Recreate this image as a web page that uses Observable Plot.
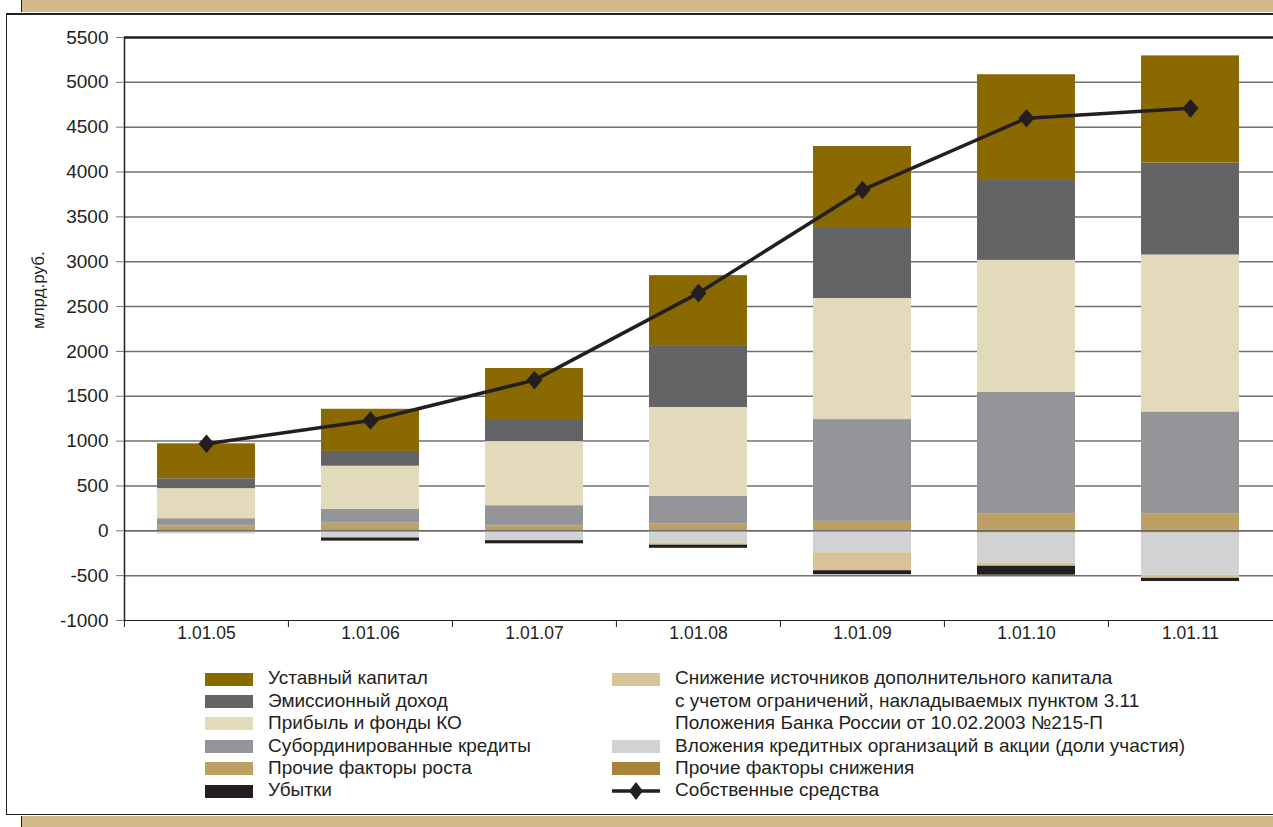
<!DOCTYPE html>
<html>
<head>
<meta charset="utf-8">
<script src="https://cdn.jsdelivr.net/npm/d3@7"></script>
<script src="https://cdn.jsdelivr.net/npm/@observablehq/plot@0.6"></script>
<style>
  html, body { margin: 0; padding: 0; background: #fff; }
  body { width: 1273px; height: 827px; position: relative; overflow: hidden;
         font-family: "Liberation Sans", Arial, sans-serif; color: #231f20; }
  .band { position: absolute; background: #d3ba8a; border-left: 1.5px solid #231f20; }
  #frame { position: absolute; left: 6px; top: 13px; width: 1290px; height: 799px;
           border: 2px solid #231f20; border-left-width: 1.5px; border-bottom-width: 1.5px; }
  #chart { position: absolute; left: 0; top: 0; }
  .legend { position: absolute; font-size: 19px; line-height: 22.4px; }
  .row { position: absolute; white-space: nowrap; }
  .sw { position: absolute; width: 48px; height: 13px; }
  .lab { position: absolute; }
</style>
</head>
<body>
<div class="band" style="left:21px; top:0; width:1260px; height:12px;"></div>
<div id="frame"></div>
<div class="band" style="left:21px; top:816px; width:1260px; height:12px;"></div>
<div id="chart"></div>
<div id="legend"></div>
<script>
// Dates of the reporting points
const dates = ["1.01.05", "1.01.06", "1.01.07", "1.01.08", "1.01.09", "1.01.10", "1.01.11"];

// Growth factors, bln rub.
const prochieRost  = [55, 85, 55, 75, 105, 185, 185];
const subord       = [80, 155, 225, 310, 1135, 1360, 1140];
const pribyl       = [335, 480, 715, 990, 1350, 1470, 1750];
const emissionnyi  = [110, 165, 235, 690, 780, 890, 1025];
const ustavnyi     = [390, 470, 580, 780, 915, 1180, 1195];

// Reduction factors, bln rub.
const prochieSnizh = [0, 0, 0, 0, 0, -25, -25];
const vlozheniya   = [-35, -80, -110, -135, -245, -335, -470];
const snizhenie    = [0, 0, 0, -25, -200, -35, -35];
const ubytki       = [0, -35, -35, -35, -45, -100, -35];

// Own funds (line)
const sobstvennye  = [970, 1230, 1680, 2650, 3800, 4600, 4710];

const yTicks = d3.range(-1000, 5501, 500);

// Series in stacking order (positives upward from zero, negatives downward)
const series = [
  {name: "Прочие факторы роста", values: prochieRost, color: "#bda064"},
  {name: "Субординированные кредиты", values: subord, color: "#949598"},
  {name: "Прибыль и фонды КО", values: pribyl, color: "#e3d9bb"},
  {name: "Эмиссионный доход", values: emissionnyi, color: "#646466"},
  {name: "Уставный капитал", values: ustavnyi, color: "#8a6900"},
  {name: "Прочие факторы снижения", values: prochieSnizh, color: "#a8843a"},
  {name: "Вложения кредитных организаций в акции (доли участия)", values: vlozheniya, color: "#d1d2d4"},
  {name: "Снижение источников дополнительного капитала", values: snizhenie, color: "#d9c296"},
  {name: "Убытки", values: ubytki, color: "#231f20"}
];

const rows = series.flatMap(s => dates.map((d, i) => ({date: d, series: s.name, value: s.values[i]})));
const ownFunds = dates.map((d, i) => ({date: d, value: sobstvennye[i]}));

// Elongated diamond marker
const tallDiamond = {
  draw(context, size) {
    const s = Math.sqrt(size);
    const hh = s * 0.5, hw = s * 0.43;
    context.moveTo(0, -hh);
    context.lineTo(hw, 0);
    context.lineTo(0, hh);
    context.lineTo(-hw, 0);
    context.closePath();
  }
};

const W = 1273, ML = 124, MR = 0;
const step = (W - ML - MR) / dates.length;

const chart = Plot.plot({
  width: W,
  height: 660,
  marginLeft: ML,
  marginRight: MR,
  marginTop: 37,
  marginBottom: 40,
  style: {fontFamily: "'Liberation Sans', Arial, sans-serif", fontSize: "17px", color: "#231f20", background: "transparent", overflow: "visible"},
  x: {domain: dates, paddingInner: 0.4, paddingOuter: 0.2},
  y: {domain: [-1000, 5500]},
  color: {domain: series.map(s => s.name), range: series.map(s => s.color)},
  marks: [
    Plot.gridY(yTicks.filter(t => t > -1000 && t < 5500), {stroke: "#707070", strokeOpacity: 1, strokeWidth: 1.5}),
    Plot.ruleY([5500], {stroke: "#231f20", strokeWidth: 2.5}),
    Plot.ruleY([-1000], {stroke: "#231f20", strokeWidth: 1.2}),
    Plot.barY(rows, Plot.stackY({x: "date", y: "value", fill: "series"})),
    Plot.ruleY([0], {stroke: "#6a6a6a", strokeWidth: 1.5}),
    Plot.frame({anchor: "left", stroke: "#231f20", strokeWidth: 1.5}),
    Plot.axisY({ticks: yTicks, tickSize: 8, tickPadding: 8, tickFormat: d => String(d), stroke: "#777", fill: "#231f20", label: null, fontSize: 19}),
    Plot.axisX({tickSize: 0, tickPadding: 6, label: null, fill: "#231f20", fontSize: 17.5}),
    Plot.axisX({tickSize: 7, text: null, label: null, dx: -step / 2, stroke: "#231f20"}),
    Plot.text(["млрд.руб."], {frameAnchor: "left", dx: -86, rotate: -90, fontSize: 17, fill: "#231f20"}),
    Plot.line(ownFunds, {x: "date", y: "value", stroke: "#231f20", strokeWidth: 3.5}),
    Plot.dot(ownFunds, {x: "date", y: "value", symbol: tallDiamond, r: 10.5, fill: "#231f20", stroke: "none"})
  ]
});
document.getElementById("chart").appendChild(chart);

// Legend
const legend = document.getElementById("legend");
function addRow(x, y, color, lines) {
  const row = document.createElement("div");
  row.className = "legend";
  row.style.left = "0px";
  row.style.top = "0px";
  if (color) {
    const sw = document.createElement("div");
    sw.className = "sw";
    sw.style.left = x + "px";
    sw.style.top = (y - 6.5) + "px";
    sw.style.background = color;
    row.appendChild(sw);
  }
  lines.forEach((t, k) => {
    const lab = document.createElement("div");
    lab.className = "lab row";
    lab.style.left = (x + 63) + "px";
    lab.style.top = (y - 11.7 + k * 22.4) + "px";
    lab.textContent = t;
    row.appendChild(lab);
  });
  legend.appendChild(row);
}
const leftX = 205, rightX = 612, y0 = 679, dy = 22.4;
addRow(leftX, y0, "#8a6900", ["Уставный капитал"]);
addRow(leftX, y0 + dy, "#646466", ["Эмиссионный доход"]);
addRow(leftX, y0 + 2 * dy, "#e3d9bb", ["Прибыль и фонды КО"]);
addRow(leftX, y0 + 3 * dy, "#949598", ["Субординированные кредиты"]);
addRow(leftX, y0 + 4 * dy, "#bda064", ["Прочие факторы роста"]);
addRow(leftX, y0 + 5 * dy, "#231f20", ["Убытки"]);
addRow(rightX, y0, "#d9c296", ["Снижение источников дополнительного капитала",
  "с учетом ограничений, накладываемых пунктом 3.11",
  "Положения Банка России от 10.02.2003 №215-П"]);
addRow(rightX, y0 + 3 * dy, "#d1d2d4", ["Вложения кредитных организаций в акции (доли участия)"]);
addRow(rightX, y0 + 4 * dy, "#a8843a", ["Прочие факторы снижения"]);
addRow(rightX, y0 + 5 * dy, null, ["Собственные средства"]);

// Line-with-marker key for own funds
const ns = "http://www.w3.org/2000/svg";
const key = document.createElementNS(ns, "svg");
key.setAttribute("width", 50);
key.setAttribute("height", 22);
key.style.position = "absolute";
key.style.left = (rightX - 1) + "px";
key.style.top = (y0 + 5 * dy - 11) + "px";
key.innerHTML = '<line x1="1" x2="49" y1="11" y2="11" stroke="#231f20" stroke-width="3.5"/>' +
  '<path d="M25,2 L32,11 L25,20 L18,11 Z" fill="#231f20"/>';
legend.appendChild(key);
</script>
</body>
</html>
